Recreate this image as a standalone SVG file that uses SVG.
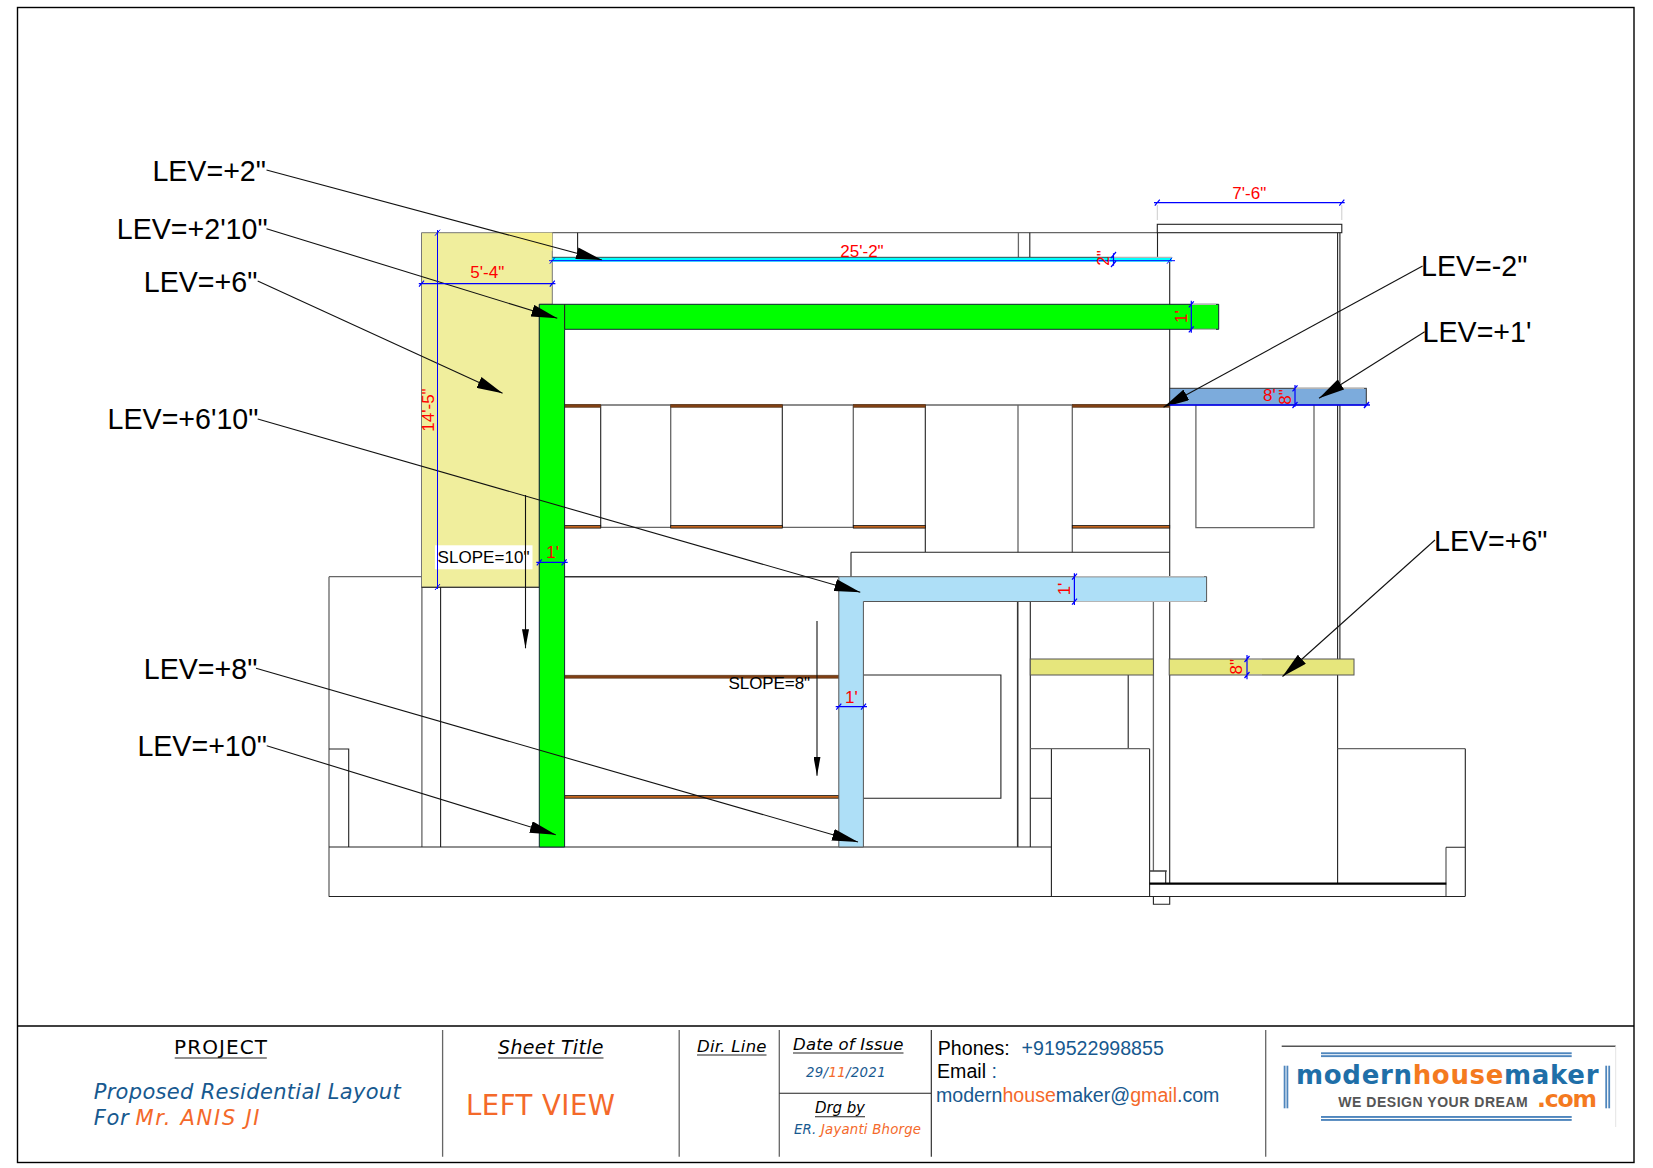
<svg xmlns="http://www.w3.org/2000/svg" width="1653" height="1168" viewBox="0 0 1653 1168">
<defs>
<style>
.l{fill:none;stroke:#222;stroke-width:1.1}
.g{fill:none;stroke:#666;stroke-width:1.3}
.k{fill:none;stroke:#000;stroke-width:2.2}
.d{fill:none;stroke:#0000ff;stroke-width:1.2}
.x{fill:none;stroke:#ccc;stroke-width:1}
.o{fill:none;stroke:#b5b5b5;stroke-width:1.2}
.a{fill:none;stroke:#111;stroke-width:1.1}
.lev{font-family:"Liberation Sans",Arial,sans-serif;font-size:28.6px;fill:#000}
.dim{font-family:"Liberation Sans",Arial,sans-serif;font-size:17px;fill:#ff0000;text-anchor:middle}
.slope{font-family:"Liberation Sans",Arial,sans-serif;font-size:17px;fill:#000}
.dj{font-family:"DejaVu Sans",Verdana,sans-serif;fill:#000}
.ob{font-style:italic}
.ls{font-family:"Liberation Sans",Arial,sans-serif;font-size:19.6px;fill:#000}
.bl{fill:#17598f}
.or{fill:#f4692a}
.bar{fill:#4f86bd}
.br1{fill:#7f3f13;stroke:#5a3a20;stroke-width:.6}
.br2{fill:#c4661f;stroke:#111;stroke-width:.8}
</style>
<marker id="head" viewBox="0 0 26 12" refX="26" refY="6" markerWidth="26" markerHeight="12" markerUnits="userSpaceOnUse" orient="auto"><path d="M0 0L26 6L0 12z" fill="#000"/></marker>
<marker id="headS" viewBox="0 0 19 7" refX="19" refY="3.5" markerWidth="19" markerHeight="7" markerUnits="userSpaceOnUse" orient="auto"><path d="M0 0L19 3.5L0 7z" fill="#000"/></marker>
</defs>
<rect width="1653" height="1168" fill="#fff"/>
<g id="sheet-frame">
<rect class="l" x="17.5" y="7.5" width="1616.5" height="1155" style="stroke-width:1.4;stroke:#000"/>
<path class="l" style="stroke-width:1.4;stroke:#000" d="M17.5 1026H1634"/>
</g>
<g id="fills">
<path d="M421.5 232.7H552.3V304.3H539.3V587.3H421.5z" fill="#f0ee9d" stroke="#777" stroke-width="1"/>
<path d="M498 232.7H552.3V251z" fill="#f6ef8c"/>
</g>
<g id="building-lines">
<path class="g" d="M552.3 232.7H1157.3"/>
<path class="l" d="M577.6 232.7V257.3M1029.8 232.7V257.3M1157.5 232.7V257.3"/>
<path class="g" d="M1018.4 232.7V257.3"/>
<rect class="l" x="1157.3" y="224.3" width="184.5" height="8.4"/>
<path class="l" d="M1337.6 232.7V659M1339.9 232.7V659M1337.6 675V883.7M1169.7 262V883.7"/>
<path class="g" d="M564.6 405H1169.7"/>
<path class="g" d="M670.7 405V527.3M853.3 405V527.3M1018 405V552.3M1072.3 405V552.3M600.7 527.3H925.3"/>
<path class="l" d="M600.7 405V527.3M782.3 405V527.3M925.3 405V552.3M851 552.3H1169.7M851 552.3V576.7"/>
<path class="g" d="M329 576.7H421.5M329 576.7V896.7M421.9 587.3V847M1153.4 601.5V871M1446 847.3V896.3"/>
<path class="l" d="M440.6 587.3V847M421.5 587.3H539.3M329 749H348.7V847M329 847H1051.4M329 896.5H1465.3"/>
<path d="M564.7 576.7H838.8" fill="none" stroke="#333" stroke-width="1.5"/>
<path class="l" d="M863.4 675H1000.9V798.3H863.4"/>
<path d="M1017.7 601.5V847" fill="none" stroke="#333" stroke-width="1.6"/>
<path class="l" d="M1030.3 601.5V847M1128.2 675V748.7M1051.4 748.7V896.3M1149.6 748.7V896.3M1030.3 798.3H1051.4M1153.4 896.3V904.3H1169.7V896.3"/>
<path class="g" d="M1030.3 748.7H1149.6M1337.6 748.7H1465.3"/>
<path class="l" d="M1465.3 748.7V896.3M1446 847.3H1465.3M1165.7 871V883.7"/>
<path d="M1149.6 871H1166.8" fill="none" stroke="#444" stroke-width="1.6"/>
<path class="k" d="M1149.6 883.7H1446.3"/>
<path class="g" d="M1195.9 405V527.7H1314V405"/>
</g>
<g id="brown-sills">
<rect class="br1" x="564.6" y="404.3" width="36.1" height="3"/>
<rect class="br1" x="670.7" y="404.3" width="111.6" height="3"/>
<rect class="br1" x="853.3" y="404.3" width="72" height="3"/>
<rect class="br1" x="1072.3" y="404.3" width="97.4" height="3"/>
<rect class="br2" x="564.6" y="525.5" width="36.1" height="2.6"/>
<rect class="br2" x="670.7" y="525.5" width="111.6" height="2.6"/>
<rect class="br2" x="853.3" y="525.5" width="72" height="2.6"/>
<rect class="br2" x="1072.3" y="525.5" width="97.4" height="2.6"/>
<rect class="br1" x="564.7" y="675.2" width="274.1" height="3"/>
<rect class="br2" x="564.7" y="795.6" width="274.1" height="2.6"/>
</g>
<g id="beams">
<rect id="cyan-slab" x="552.3" y="257.3" width="619.5" height="4.4" fill="#00ffff"/>
<path d="M552.3 257.3H1113.5" fill="none" stroke="#222" stroke-width=".8"/>
<path d="M1113.5 257.3H1171.8" class="o"/>
<path id="green-frame" d="M539.3 304.3H1218.7V329.3H564.6V847H539.3z" fill="#00ff00" stroke="#123" stroke-width="1"/>
<path class="l" d="M564.6 304.3V329.3"/>
<path class="o" d="M1191.3 304.3H1216M1191.3 329.3H1216"/>
<path id="blue-frame" d="M838.8 576.7H1206.6V601.5H863.4V847H838.8z" fill="#aedff7" stroke="#555" stroke-width="1"/>
<path class="o" d="M1074.4 576.7H1204M1074.4 601.5H1204"/>
<rect id="steel-beam" x="1169.7" y="388.3" width="196.6" height="16.7" fill="#7cabdc" stroke="#333" stroke-width="1"/>
<path class="o" d="M1295 388.3H1364"/>
<rect id="band-left" x="1030.3" y="659" width="123.1" height="16" fill="#e6e67c" stroke="#555" stroke-width="1"/>
<rect id="band-right" x="1169.2" y="659" width="184.8" height="16" fill="#e6e67c" stroke="#555" stroke-width="1"/>
<path class="o" d="M1247 659H1262M1247 675H1262"/>
</g>
<g id="slope-notes">
<rect x="434.9" y="545.3" width="97.6" height="24" fill="#fff"/>
<text class="slope" x="437.5" y="563.3" textLength="92">SLOPE=10"</text>
<text class="slope" x="728.6" y="689.3" textLength="81.5">SLOPE=8"</text>
</g>
<g id="connectors">
<line class="a" x1="525.5" y1="495" x2="525.5" y2="648.3" marker-end="url(#headS)"/>
<line class="a" x1="817" y1="621" x2="817" y2="775.7" marker-end="url(#headS)"/>
<line class="a" x1="266.5" y1="170" x2="602" y2="260" marker-end="url(#head)"/>
<line class="a" x1="266.5" y1="228.7" x2="557.3" y2="318.3" marker-end="url(#head)"/>
<line class="a" x1="257.7" y1="281" x2="502.6" y2="393.3" marker-end="url(#head)"/>
<line class="a" x1="257.7" y1="419" x2="860.3" y2="592.3" marker-end="url(#head)"/>
<line class="a" x1="256" y1="668.3" x2="858" y2="842" marker-end="url(#head)"/>
<line class="a" x1="266.7" y1="745.7" x2="555.8" y2="834.7" marker-end="url(#head)"/>
<line class="a" x1="1422.6" y1="266" x2="1163.5" y2="407.3" marker-end="url(#head)"/>
<line class="a" x1="1424.7" y1="331.7" x2="1319" y2="398.3" marker-end="url(#head)"/>
<line class="a" x1="1435" y1="540" x2="1282.5" y2="676.5" marker-end="url(#head)"/>
</g>
<g id="dimensions">
<path class="x" d="M1157.3 205V220M1341.8 205V220"/>
<path class="d" d="M1154 202.7H1344.7M1154.8 205.7l5 -6M1339.3 205.7l5 -6"/>
<path class="d" d="M418.8 283.7H555.4M419 286.7l5 -6M549.8 286.7l5 -6"/>
<path class="d" d="M437.5 230V589M435 235.7l5 -6M435 590l5 -6" style="stroke-width:1"/>
<path class="d" d="M536.3 562.3H567.7M536.8 565.3l5 -6M561.6 565.3l5 -6"/>
<path class="d" d="M835.7 706.7H867M836.3 709.7l5 -6M861 709.7l5 -6"/>
<path class="d" d="M549 260.7H1175M549.8 263.7l5 -6M1167 263.7l5 -6" style="stroke-width:1"/>
<path class="d" d="M1113.5 253.3V265.7M1111 258l5 -6M1111 267l5 -6"/>
<path class="d" d="M1191.3 300.7V332.7M1188.8 307.3l5 -6M1188.8 332.3l5 -6"/>
<path class="d" d="M1295 385V406.7M1292.5 391.3l5 -6M1292.5 408l5 -6"/>
<path class="d" d="M1169.7 405H1370M1364 408l5 -6" style="stroke-width:1.5"/>
<path class="d" d="M1074.4 573.3V605M1072 579.7l5 -6M1072 604.7l5 -6"/>
<path class="d" d="M1247 655V679.3M1244.5 662l5 -6M1244.5 678l5 -6"/>
</g>
<g id="dimension-text">
<text class="dim" x="1249.3" y="199">7'-6"</text>
<text class="dim" x="487.3" y="278.3">5'-4"</text>
<text class="dim" x="862" y="257.3">25'-2"</text>
<text class="dim" x="552.7" y="558">1'</text>
<text class="dim" x="851.3" y="702.7">1'</text>
<text class="dim" style="text-anchor:start" x="1263" y="401">8'</text>
<text class="dim" transform="rotate(-90 433.7 410)" x="433.7" y="410">14'-5"</text>
<text class="dim" transform="rotate(-90 1109 258)" x="1109" y="258">2"</text>
<text class="dim" transform="rotate(-90 1187 316.7)" x="1187" y="316.7">1'</text>
<text class="dim" transform="rotate(-90 1290.8 397)" x="1290.8" y="397">8"</text>
<text class="dim" transform="rotate(-90 1070 589)" x="1070" y="589">1'</text>
<text class="dim" transform="rotate(-90 1241.8 666.7)" x="1241.8" y="666.7">8"</text>
</g>
<g id="level-labels">
<text class="lev" x="152.4" y="180.7">LEV=+2"</text>
<text class="lev" x="116.8" y="238.7">LEV=+2'10"</text>
<text class="lev" x="143.8" y="291.7">LEV=+6"</text>
<text class="lev" x="107.6" y="428.6">LEV=+6'10"</text>
<text class="lev" x="143.8" y="678.6">LEV=+8"</text>
<text class="lev" x="137.4" y="755.7">LEV=+10"</text>
<text class="lev" x="1421" y="276">LEV=-2"</text>
<text class="lev" x="1422.6" y="341.7">LEV=+1'</text>
<text class="lev" x="1434" y="550.7">LEV=+6"</text>
</g>
<g id="title-block">
<path class="g" d="M442.6 1030V1156.7M679.2 1030V1156.7M779.3 1030V1156.7M1265.7 1030V1156.7"/>
<path class="l" d="M931.3 1030V1156.7M779.3 1093.3H931.3"/>
<path class="l" d="M174.7 1058H266.8M498 1058H603.5M697 1055H766.5M793 1053H903.5M815 1116.7H865"/>
<g id="project-cell">
<text class="dj" x="174" y="1054.3" font-size="20" textLength="93">PROJECT</text>
<text class="dj ob bl" x="93.7" y="1099" font-size="21" textLength="307">Proposed Residential Layout</text>
<text class="dj ob bl" x="93.7" y="1125" font-size="21" textLength="35">For</text>
<text class="dj ob or" x="135.5" y="1125" font-size="21" textLength="124">Mr. ANIS JI</text>
</g>
<g id="sheet-cell">
<text class="dj ob" x="498" y="1054.3" font-size="19" textLength="105.5">Sheet Title</text>
<text class="dj or" x="466" y="1114.7" font-size="27.5" textLength="149">LEFT VIEW</text>
</g>
<g id="dir-cell">
<text class="dj ob" x="697" y="1052.3" font-size="16.5" textLength="69.5">Dir. Line</text>
</g>
<g id="date-cell">
<text class="dj ob" x="793" y="1050" font-size="16.5" textLength="110.5">Date of Issue</text>
<text class="dj ob bl" x="806" y="1076.7" font-size="13.3" textLength="79.6">29/<tspan class="or">11</tspan>/2021</text>
<text class="dj ob" x="815" y="1113" font-size="15" textLength="50">Drg by</text>
<text class="dj ob bl" x="794" y="1134" font-size="13.3" textLength="127">ER. <tspan class="or">Jayanti Bhorge</tspan></text>
</g>
<g id="contact-cell">
<text class="ls" x="937.8" y="1055.3">Phones:  <tspan class="bl" x="1021.6">+919522998855</tspan></text>
<text class="ls" x="937" y="1077.9">Email <tspan class="bl">:</tspan></text>
<text class="ls bl" x="936" y="1102">modern<tspan class="or">house</tspan>maker@<tspan class="or">gmail</tspan>.com</text>
</g>
<g id="logo">
<path d="M1281.7 1046.3H1615.7" fill="none" stroke="#555" stroke-width="1.5"/>
<path d="M1615.7 1046.3V1127" fill="none" stroke="#e4e4e4" stroke-width="1"/>
<rect class="bar" x="1321" y="1052.3" width="250.7" height="1.9"/><rect class="bar" x="1321" y="1055.2" width="250.7" height="1.9"/>
<rect class="bar" x="1321" y="1116" width="250.7" height="1.9"/><rect class="bar" x="1321" y="1119" width="250.7" height="1.9"/>
<rect class="bar" x="1283.7" y="1065.7" width="1.8" height="42.6"/><rect class="bar" x="1286.5" y="1065.7" width="1.8" height="42.6"/>
<rect class="bar" x="1605.3" y="1065.7" width="1.8" height="42.6"/><rect class="bar" x="1608.3" y="1065.7" width="1.8" height="42.6"/>
<text x="1296" y="1084" font-family="'DejaVu Sans',sans-serif" font-weight="700" font-size="26" fill="#1f6fa8" textLength="302.5">modern<tspan fill="#f47a1f">house</tspan>maker</text>
<text x="1338.3" y="1107.3" font-family="'Liberation Sans',Arial,sans-serif" font-weight="700" font-size="14" fill="#555" textLength="189.4">WE DESIGN YOUR DREAM</text>
<text x="1537" y="1107" font-family="'DejaVu Sans',sans-serif" font-weight="700" font-size="23.5" fill="#f47a1f" textLength="60">.com</text>
</g>
</g>
</svg>
